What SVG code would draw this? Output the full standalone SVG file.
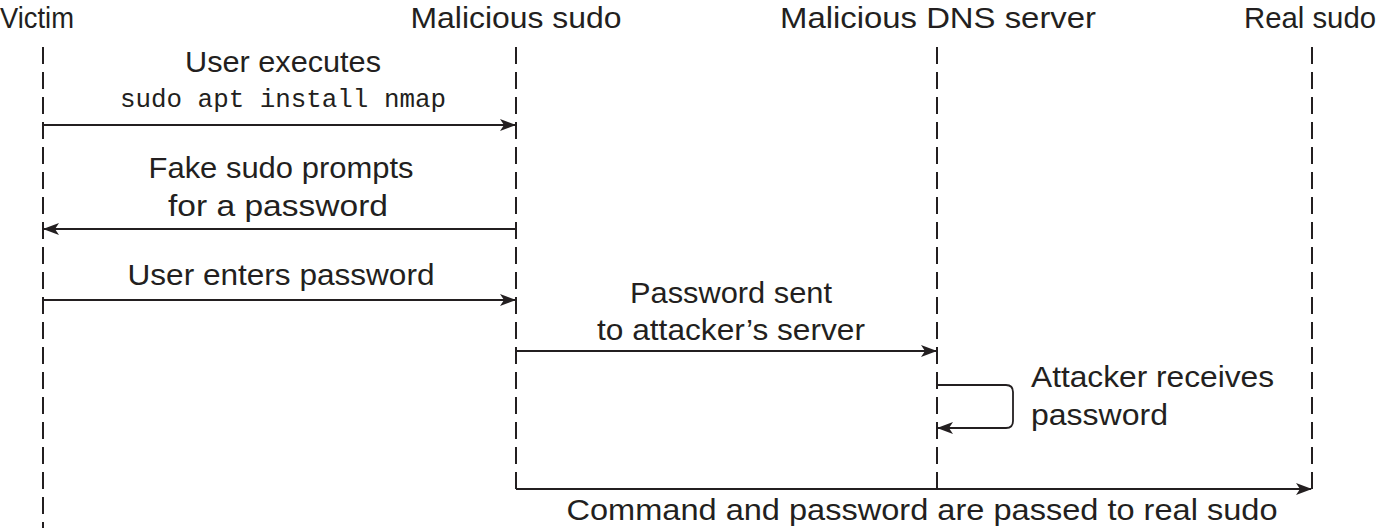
<svg xmlns="http://www.w3.org/2000/svg" width="1378" height="530" viewBox="0 0 1378 530">
<style>
.t{font-family:"Liberation Sans",Arial,sans-serif;font-size:29px;fill:#231f20}
.h{font-family:"Liberation Sans",Arial,sans-serif;font-size:30px;fill:#231f20}
.m{font-family:"Liberation Mono","DejaVu Sans Mono",monospace;font-size:26px;fill:#231f20}
.life{stroke:#231f20;stroke-width:2;stroke-dasharray:17 8;fill:none}
.msg{stroke:#231f20;stroke-width:1.8;fill:none;marker-end:url(#ah)}
</style>
<defs>
<marker id="ah" viewBox="0 0 16 12" refX="15" refY="6" markerWidth="16" markerHeight="12" markerUnits="userSpaceOnUse" orient="auto">
<path d="M0,0 L16,6 L0,12 L4,6 Z" fill="#231f20"/>
</marker>
</defs>
<rect width="1378" height="530" fill="#fff"/>
<g id="victim">
<text class="h" x="37" y="28" text-anchor="middle" textLength="74" lengthAdjust="spacingAndGlyphs">Victim</text>
<line class="life" x1="43" y1="47" x2="43" y2="528"/>
</g>
<g id="malicious-sudo">
<text class="h" x="516" y="28" text-anchor="middle" textLength="211" lengthAdjust="spacingAndGlyphs">Malicious sudo</text>
<line class="life" x1="516" y1="47" x2="516" y2="489"/>
</g>
<g id="malicious-dns">
<text class="h" x="938" y="28" text-anchor="middle" textLength="316" lengthAdjust="spacingAndGlyphs">Malicious DNS server</text>
<line class="life" x1="937" y1="47" x2="937" y2="489"/>
</g>
<g id="real-sudo">
<text class="h" x="1310" y="28" text-anchor="middle" textLength="132" lengthAdjust="spacingAndGlyphs">Real sudo</text>
<line class="life" x1="1312" y1="47" x2="1312" y2="489"/>
</g>
<g id="connectors">
<line class="msg" x1="43" y1="125" x2="515" y2="125"/>
<line class="msg" x1="516" y1="229" x2="44" y2="229"/>
<line class="msg" x1="43" y1="300" x2="515" y2="300"/>
<line class="msg" x1="516" y1="351" x2="936" y2="351"/>
<path class="msg" d="M937,385 H1006 Q1013,385 1013,392 V421 Q1013,428 1006,428 H938"/>
<line class="msg" x1="516" y1="489" x2="1311" y2="489"/>
</g>
<g id="labels">
<text class="t" x="283" y="72" text-anchor="middle" textLength="196" lengthAdjust="spacingAndGlyphs">User executes</text>
<text class="m" x="283" y="107" text-anchor="middle" textLength="326" lengthAdjust="spacingAndGlyphs">sudo apt install nmap</text>
<text class="t" x="281" y="178" text-anchor="middle" textLength="265" lengthAdjust="spacingAndGlyphs">Fake sudo prompts</text>
<text class="t" x="278" y="216" text-anchor="middle" textLength="220" lengthAdjust="spacingAndGlyphs">for a password</text>
<text class="t" x="281" y="285" text-anchor="middle" textLength="307" lengthAdjust="spacingAndGlyphs">User enters password</text>
<text class="t" x="731" y="303" text-anchor="middle" textLength="202" lengthAdjust="spacingAndGlyphs">Password sent</text>
<text class="t" x="731" y="340" text-anchor="middle" textLength="268" lengthAdjust="spacingAndGlyphs">to attacker’s server</text>
<text class="t" x="1031" y="387" textLength="243" lengthAdjust="spacingAndGlyphs">Attacker receives</text>
<text class="t" x="1031" y="425" textLength="137" lengthAdjust="spacingAndGlyphs">password</text>
<text class="t" x="922" y="520" text-anchor="middle" textLength="711" lengthAdjust="spacingAndGlyphs">Command and password are passed to real sudo</text>
</g>
</svg>
